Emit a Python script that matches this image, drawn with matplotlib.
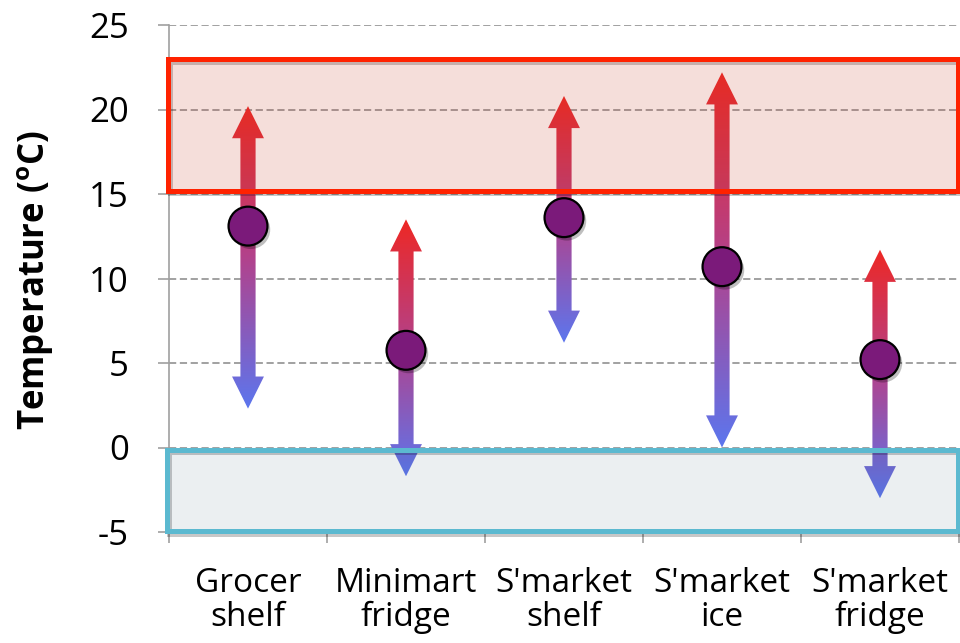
import numpy as np
import matplotlib
matplotlib.use('Agg')
import matplotlib.pyplot as plt
from matplotlib.path import Path
from matplotlib.patches import PathPatch, Rectangle
from matplotlib.colors import LinearSegmentedColormap
import matplotlib.patheffects as pe

categories = ["Grocer\nshelf", "Minimart\nfridge", "S'market\nshelf", "S'market\nice", "S'market\nfridge"]
mean_temp = [13.1, 5.75, 13.6, 10.7, 5.2]
max_temp = [20.2, 13.5, 20.8, 22.2, 11.7]
min_temp = [2.3, -1.7, 6.2, 0.0, -3.0]
yticks = [-5, 0, 5, 10, 15, 20, 25]
hot_zone = (15.2, 23.0)
cold_zone = (-4.95, -0.12)

plt.rcParams['font.family'] = ['Open Sans', 'DejaVu Sans']
plt.rcParams['mathtext.fontset'] = 'custom'
plt.rcParams['mathtext.bf'] = 'Open Sans:bold'
plt.rcParams['mathtext.rm'] = 'Open Sans'

fig = plt.figure(figsize=(9.6, 6.43), dpi=100)
ax = fig.add_axes([169/960, 1-532/643, 790/960, (532-25)/643])
x = np.arange(len(categories))

cmap = LinearSegmentedColormap.from_list(
    'g', [(92/255, 118/255, 238/255), (178/255, 66/255, 140/255), (238/255, 40/255, 36/255)])
grad = np.linspace(0, 1, 256).reshape(-1, 1)

shaft_hw, head_hw, head_len = 0.048, 0.101, 1.9
for xi, lo, hi in zip(x, min_temp, max_temp):
    verts = [(xi, hi), (xi + head_hw, hi - head_len), (xi + shaft_hw, hi - head_len),
             (xi + shaft_hw, lo + head_len), (xi + head_hw, lo + head_len), (xi, lo),
             (xi - head_hw, lo + head_len), (xi - shaft_hw, lo + head_len),
             (xi - shaft_hw, hi - head_len), (xi - head_hw, hi - head_len), (xi, hi)]
    patch = PathPatch(Path(verts, closed=True), facecolor='none', edgecolor='none')
    ax.add_patch(patch)
    im = ax.imshow(grad, cmap=cmap, origin='lower', extent=(xi - head_hw, xi + head_hw, lo, hi),
                   aspect='auto', zorder=3, interpolation='bilinear')
    im.set_clip_path(patch)

shadow = [pe.SimpleLineShadow(offset=(1.5, -2), shadow_color='k', alpha=0.22), pe.Normal()]
hot = Rectangle((-0.509, hot_zone[0]), 5.003, hot_zone[1] - hot_zone[0],
                facecolor=(196/255, 60/255, 40/255, 0.17), edgecolor='#FF2200', lw=3.6,
                clip_on=False, zorder=4, path_effects=shadow)
cold = Rectangle((-0.511, cold_zone[0]), 5.003, cold_zone[1] - cold_zone[0],
                 facecolor=(60/255, 100/255, 125/255, 0.10), edgecolor='#5BB9D0', lw=3.6,
                 clip_on=False, zorder=4, path_effects=shadow)
ax.add_patch(hot)
ax.add_patch(cold)

ax.plot(x, mean_temp, 'o', ms=28, mfc='#7B1A7A', mec='black', mew=1.6, zorder=6,
        path_effects=[pe.SimplePatchShadow(offset=(2, -2.5), shadow_rgbFace='k', alpha=0.25), pe.Normal()])

ax.set_xlim(-0.5, 4.5)
ax.set_ylim(-5, 25)
ax.set_yticks(yticks)
ax.set_yticklabels([str(v) for v in yticks])
ax.set_xticks(x)
ax.set_xticklabels(categories, linespacing=1.06)
ax.set_xticks(np.arange(-0.5, 5, 1), minor=True)
ax.tick_params(axis='x', which='major', length=0, pad=25, labelsize=24)
ax.tick_params(axis='x', which='minor', length=8, color='#A0A0A0', width=1.2)
ax.tick_params(axis='y', length=8, color='#A0A0A0', width=1.2, pad=21, labelsize=25)

ax.yaxis.grid(True, linestyle=(0, (4, 2)), color='#9A9A9A', lw=1.3)
ax.set_axisbelow(True)
for s in ['top', 'right']:
    ax.spines[s].set_visible(False)
for s in ['left', 'bottom']:
    ax.spines[s].set_color('#A0A0A0')
    ax.spines[s].set_linewidth(1.2)

ax.set_ylabel(r'Temperature ($^{\mathbf{o}}$C)', fontsize=25, fontweight='bold')
ax.yaxis.set_label_coords(-0.144, 0.497)

fig.savefig('out.png', dpi=100)
